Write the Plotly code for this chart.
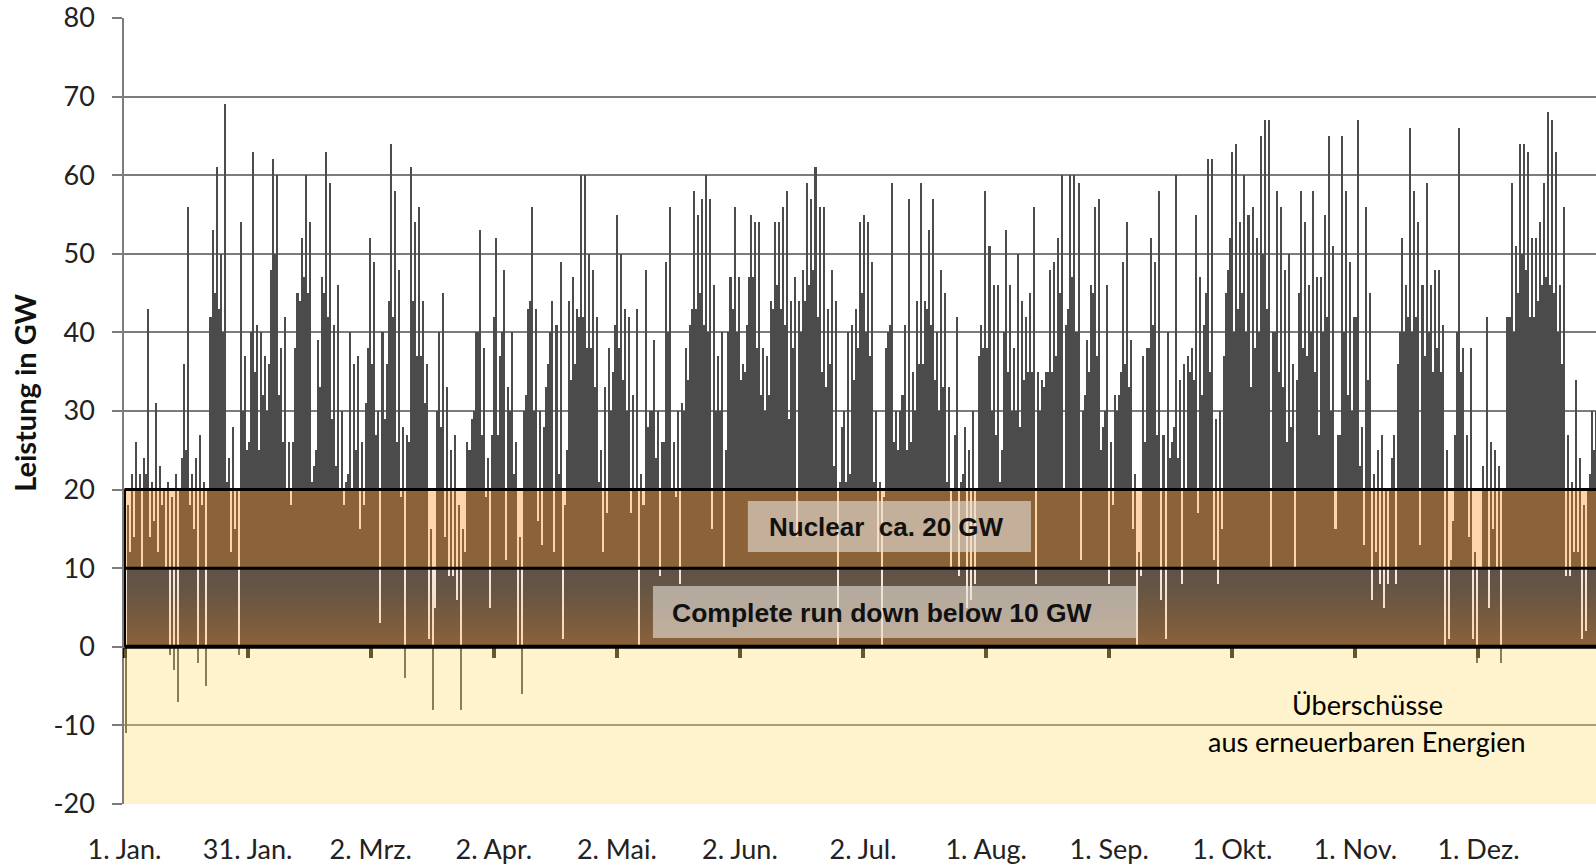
import numpy as np
import plotly.graph_objects as go

# Residual load in GW, two readings per day (first / second half of each day)
jan = [-11,18, 12,22, 14,26, 20,22, 10,24, 22,43, 14,21, 16,31, 12,23, 18,20, 10,21, -1,19, -3,22, -7,20, 24,36, 25,56,
       18,22, 15,24, -2,27, 18,21, -5,20, 42,53, 45,61, 43,50, 40,69, 21,24, 12,28, 15,20, -1,54, 30,37, 25,26]
feb = [40,63, 35,41, 25,40, 32,37, 30,36, 48,62, 50,60, 32,38, 26,42, 20,26, 18,26, 38,45, 44,52, 47,60, 45,54, 21,23,
       25,39, 33,47, 45,63, 42,59, 29,41, 23,46, 20,30, 18,21, 22,40, 20,36, 25,37, 15,26]
mar = [18,31, 38,52, 36,49, 27,30, 3,40, 29,36, 44,64, 42,58, 26,48, 19,28, -4,27, 26,61, 44,54, 37,56, 37,44, 31,36,
       1,15, -8,5, 30,40, 28,45, 14,33, 9,25, 9,27, 6,18, -8,15, 12,26, 25,29, 30,40, 40,53, 27,38, 19,24]
apr = [5,27, 42,52, 27,37, 40,48, 11,33, 30,40, 22,26, 0,14, -6,30, 32,43, 44,56, 30,43, 16,30, 13,28, 33,36, 40,44,
       12,41, 22,49, 1,18, 25,44, 34,47, 36,43, 42,60, 42,60, 38,50, 38,48, 33,42, 21,25, 12,33, 17,38]
may = [30,35, 41,55, 38,50, 34,43, 30,42, 17,32, 20,43, 0,22, 18,48, 28,30, 30,39, 24,30, 9,26, 26,49, 40,56, 20,26,
       19,30, 8,31, 30,38, 34,41, 43,58, 43,55, 45,57, 41,60, 40,57, 15,46, 30,37, 30,40, 10,25, 40,47, 43,56]
jun = [40,47, 34,36, 35,41, 47,55, 47,54, 38,54, 32,38, 30,37, 32,44, 43,54, 46,54, 43,56, 41,58, 29,44, 38,47, 14,44,
       40,48, 44,59, 46,57, 48,61, 42,56, 35,56, 33,43, 36,48, 23,44, 0,21, 28,30, 21,40, 22,41, 34,43]
jul = [38,54, 45,55, 40,54, 37,49, 21,30, 12,21, 0,19, 38,40, 41,59, 26,30, 25,30, 32,41, 25,57, 26,35, 30,44, 36,59,
       36,44, 43,53, 41,57, 34,40, 30,48, 33,45, 21,33, 10,20, 27,42, 9,21, 22,28, 5,25, 6,30, 8,20, 37,41]
aug = [38,58, 38,51, 30,46, 27,46, 21,25, 40,53, 35,46, 30,38, 30,50, 28,44, 34,42, 35,45, 35,56, 8,35, 30,34, 33,35,
       35,48, 35,49, 37,52, 45,60, 20,41, 43,60, 47,60, 40,59, 11,30, 32,39, 35,46, 45,56, 37,57, 25,28, 30,46]
sep = [8,26, 18,32, 30,32, 35,49, 36,54, 33,39, 15,22, 0,12, 9,37, 26,38, 38,52, 41,49, 27,58, 6,27, 1,40, 24,26,
       28,60, 24,34, 8,36, 20,37, 35,38, 34,55, 17,47, 32,41, 45,62, 35,62, 11,29, 8,30, 15,37, 45,48]
oct_ = [52,63, 40,64, 43,54, 45,60, 40,55, 33,56, 38,52, 40,65, 50,67, 43,67, 10,40, 40,58, 35,56, 33,48, 26,50, 28,36,
        10,34, 45,58, 38,54, 37,46, 40,58, 35,47, 27,47, 40,55, 42,65, 30,51, 15,27, 27,65, 40,58, 32,49, 30,42]
nov = [42,67, 23,28, 13,56, 34,45, 6,22, 12,25, 8,27, 5,20, 8,20, 24,27, 8,36, 40,52, 40,46, 42,66, 40,58, 42,54,
       13,46, 37,59, 40,46, 35,48, 38,48, 35,41, 0,25, 1,11, 16,27, 40,66, 35,38, 20,27, 14,38, 1,12]
dec = [-2,10, 10,23, 20,42, 5,26, 15,25, 10,23, -2,20, 20,42, 42,59, 40,51, 45,64, 50,64, 48,63, 42,52, 42,52, 44,54,
       46,59, 47,68, 46,67, 45,63, 40,46, 36,56, 9,27, 9,21, 12,34, 12,24, 1,18, 2,20, 22,30, 25,30, 20,28]

tick_hours = [0, 730, 1460, 2190, 2920, 3650, 4380, 5110, 5840, 6570, 7300, 8030]
tick_labels = ["1. Jan.", "31. Jan.", "2. Mrz.", "2. Apr.", "2. Mai.", "2. Jun.", "2. Jul.",
               "1. Aug.", "1. Sep.", "1. Okt.", "1. Nov.", "1. Dez."]
y_ticks = [-20, -10, 0, 10, 20, 30, 40, 50, 60, 70, 80]
y_labels = ["-20", "-10", "0", "10", "20", "30", "40", "50", "60", "70", "80"]

NUCLEAR = 20      # GW
RUN_DOWN = 10     # GW
HOURS_YEAR = 8760
STEP = 12         # hours per reading

values = np.array(jan + feb + mar + apr + may + jun + jul + aug + sep + oct_ + nov + dec, dtype=float)
hours = np.arange(len(values)) * STEP + STEP / 2

XMIN, XMAX = -3, 8727

fig = go.Figure()
fig.add_trace(go.Bar(x=hours, y=values, width=STEP, marker=dict(color="#4b4b4b", line=dict(width=0)),
                     hoverinfo="skip", showlegend=False))
# lower part of the band with vertical gradient
fig.add_trace(go.Scatter(x=[XMIN, HOURS_YEAR, HOURS_YEAR, XMIN, XMIN], y=[0, 0, RUN_DOWN, RUN_DOWN, 0],
                         mode="lines", line=dict(width=0), fill="toself",
                         fillgradient=dict(type="vertical", start=0, stop=RUN_DOWN,
                                           colorscale=[[0, "rgba(255,141,24,0.36)"],
                                                       [1, "rgba(189,114,46,0.16)"]]),
                         hoverinfo="skip", showlegend=False))
# dummy trace for zero-line tick axis
fig.add_trace(go.Scatter(x=[None], y=[None], xaxis="x2", showlegend=False, hoverinfo="skip"))

shapes = [
    dict(type="rect", xref="x", yref="y", x0=XMIN, x1=HOURS_YEAR, y0=RUN_DOWN, y1=NUCLEAR,
         fillcolor="rgba(255,141,24,0.36)", line=dict(width=0), layer="above"),
    dict(type="rect", xref="x", yref="y", x0=XMIN, x1=HOURS_YEAR, y0=-20, y1=0,
         fillcolor="rgba(255,222,112,0.35)", line=dict(width=0), layer="above"),
    dict(type="rect", xref="x", yref="y", x0=3697, x1=5376, y0=12.06, y1=18.55,
         fillcolor="rgba(232,226,220,0.6)", line=dict(width=0), layer="above"),
    dict(type="rect", xref="x", yref="y", x0=3134, x1=6005, y0=1.12, y1=7.73,
         fillcolor="rgba(232,226,220,0.6)", line=dict(width=0), layer="above"),
    dict(type="line", xref="x", yref="y", x0=0, x1=HOURS_YEAR, y0=NUCLEAR, y1=NUCLEAR,
         line=dict(color="black", width=3), layer="above"),
    dict(type="line", xref="x", yref="y", x0=0, x1=HOURS_YEAR, y0=RUN_DOWN, y1=RUN_DOWN,
         line=dict(color="black", width=3), layer="above"),
    dict(type="line", xref="x", yref="y", x0=0, x1=HOURS_YEAR, y0=0, y1=0,
         line=dict(color="black", width=4), layer="above"),
    dict(type="line", xref="x", yref="y", x0=0, x1=0, y0=0, y1=NUCLEAR,
         line=dict(color="black", width=3), layer="above"),
]

annotations = [
    dict(text="<b>Nuclear  ca. 20 GW</b>", x=4522, y=15.24, xref="x", yref="y", showarrow=False,
         font=dict(family="Liberation Sans, Arial, sans-serif", size=26, color="#111111")),
    dict(text="<b>Complete run down below 10 GW</b>", x=4492, y=4.3, xref="x", yref="y", showarrow=False,
         font=dict(family="Liberation Sans, Arial, sans-serif", size=26.5, color="#111111")),
    dict(text="Überschüsse", x=7369, y=-7.4, xref="x", yref="y", showarrow=False,
         font=dict(family="Lato, sans-serif", size=27, color="#000000")),
    dict(text="aus erneuerbaren Energien", x=7369, y=-12.1, xref="x", yref="y", showarrow=False,
         font=dict(family="Lato, sans-serif", size=27, color="#000000")),
    dict(text="<b>Leistung in GW</b>", x=-0.0673, y=0.523, xref="paper", yref="paper", showarrow=False,
         textangle=-90, xanchor="center", yanchor="middle",
         font=dict(family="Lato, sans-serif", size=29, color="#111111")),
]

fig.update_layout(
    width=1596, height=865,
    margin=dict(l=124, r=0, t=18, b=61),
    paper_bgcolor="white", plot_bgcolor="white",
    bargap=0, barmode="overlay",
    shapes=shapes, annotations=annotations,
    xaxis=dict(range=[XMIN, XMAX], tickmode="array", tickvals=tick_hours, ticktext=tick_labels,
               showgrid=False, zeroline=False, showline=False, ticks="",
               ticklabelstandoff=27,
               tickfont=dict(family="Lato, sans-serif", size=27, color="#222222")),
    xaxis2=dict(range=[XMIN, XMAX], overlaying="x", anchor="free", position=0.2, side="bottom",
                tickmode="array", tickvals=tick_hours, showticklabels=False, ticks="outside",
                ticklen=10, tickwidth=4, tickcolor="#140f02", showgrid=False, zeroline=False, showline=False),
    yaxis=dict(range=[-20, 80], tickmode="array", tickvals=y_ticks, ticktext=y_labels,
               showgrid=True, gridcolor="#7c7c7c",
               gridwidth=1.5, zeroline=False, showline=True, linecolor="#7c7c7c", linewidth=1.5,
               ticks="outside", ticklen=10, tickcolor="#7c7c7c", tickwidth=1.5,
               ticklabelstandoff=12,
               tickfont=dict(family="Lato, sans-serif", size=27, color="#222222")),
)

fig.write_html("out.html", config={"displayModeBar": False},
               post_script="document.body.style.margin='0px';document.body.style.overflow='hidden';")
